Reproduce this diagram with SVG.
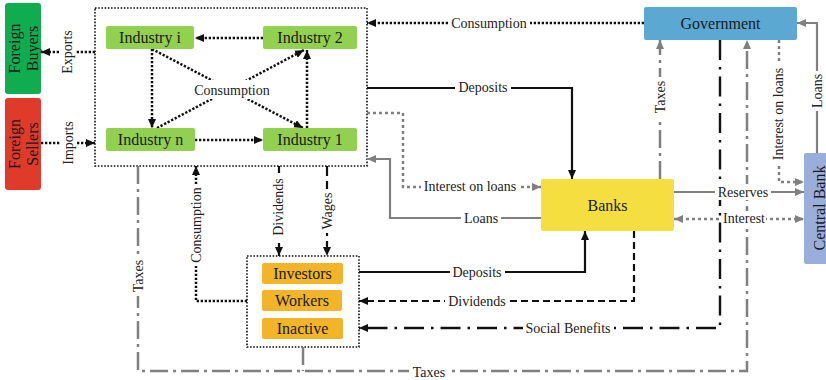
<svg xmlns="http://www.w3.org/2000/svg" width="826" height="380" viewBox="0 0 826 380" font-family="'Liberation Serif', 'Times New Roman', serif">
<defs>
<marker id="ab" markerUnits="userSpaceOnUse" markerWidth="9" markerHeight="8" refX="9" refY="4" orient="auto-start-reverse"><path d="M0,0 L9,4 L0,8 z" fill="#111"/></marker>
<marker id="ag" markerUnits="userSpaceOnUse" markerWidth="9" markerHeight="8" refX="9" refY="4" orient="auto-start-reverse"><path d="M0,0 L9,4 L0,8 z" fill="#808080"/></marker>
<style>
.lbl{font-family:'Liberation Serif',serif;font-size:14px;text-anchor:middle;fill:#222;}
.nt{font-family:'Liberation Serif',serif;font-size:16px;text-anchor:middle;fill:#1a1a1a;}
.bg{fill:#fff;}
.c{fill:none;}
.bdot{stroke:#111;stroke-width:2.5;stroke-dasharray:2.3 1.7;marker-end:url(#ab);}
.gdot{stroke:#808080;stroke-width:2.5;stroke-dasharray:3 3;marker-end:url(#ag);}
.bsol{stroke:#111;stroke-width:2.2;marker-end:url(#ab);}
.gsol{stroke:#808080;stroke-width:2.2;marker-end:url(#ag);}
.bdash{stroke:#111;stroke-width:2.2;stroke-dasharray:7 4;marker-end:url(#ab);}
.bdash2{stroke:#111;stroke-width:2.2;stroke-dasharray:10 5;marker-end:url(#ab);}
.bdd{stroke:#111;stroke-width:2.4;stroke-dasharray:20 7 2.5 7;marker-end:url(#ab);}
.gdd{stroke:#808080;stroke-width:2.5;stroke-dasharray:18 5 3 5;}
.box{fill:none;stroke:#111;stroke-width:1.6;stroke-dasharray:1.6 1.6;}
</style>
</defs>

<g id="industries">
<rect class="box" x="95" y="8" width="272" height="158"/>
</g>
<g id="households">
<rect class="box" x="247" y="256" width="112" height="91"/>
</g>

<g id="connectors">
<path class="c bdot" d="M263,38 H195"/>
<path class="c bdot" d="M195,140 H263"/>
<path class="c bdot" d="M152,49 V128"/>
<path class="c bdot" d="M307,128 V50"/>
<path class="c bdot" d="M152,49 L303,128"/>
<path class="c bdot" d="M157,128 L304,50"/>
<path class="c bdot" d="M95,52 H41"/>
<path class="c bdot" d="M41,143 H95"/>
<path class="c bdot" d="M644,23 H367"/>
<path class="c bsol" d="M367,88 H572 V179"/>
<path class="c gdot" d="M367,113 H403 V187 H541"/>
<path class="c gsol" d="M541,218 H390 V159 H367"/>
<path class="c gdd" d="M660,179 V40" marker-end="url(#ag)"/>
<path class="c gdd" d="M138,166 V371 H747 V40" marker-end="url(#ag)"/>
<path class="c gdd" d="M303,347 V371"/>
<path class="c bdd" d="M720,40 V328 H359"/>
<path class="c gdot" d="M779,40 V182 H804"/>
<path class="c gsol" d="M817,153 V23 H797"/>
<path class="c gsol" d="M674,192 H804"/>
<path class="c gdot" d="M674,219 H804" marker-start="url(#ag)"/>
<path class="c bdot" d="M247,301 H196 V166"/>
<path class="c bdash" d="M279,166 V256"/>
<path class="c bdash2" d="M327,166 V256"/>
<path class="c bsol" d="M359,272 H585 V231"/>
<path class="c bdash" d="M634,231 V301 H359"/>
</g>

<g id="labels">
<g><rect class="bg" x="192" y="80" width="80" height="19"/><text class="lbl" x="232" y="95">Consumption</text></g>
<g><rect class="bg" x="448" y="15" width="82" height="16"/><text class="lbl" x="489" y="28">Consumption</text></g>
<g><rect class="bg" x="455" y="79" width="56" height="16"/><text class="lbl" x="483" y="92">Deposits</text></g>
<g><rect class="bg" x="421" y="179" width="99" height="16"/><text class="lbl" x="470" y="191">Interest on loans</text></g>
<g><rect class="bg" x="461" y="210" width="40" height="16"/><text class="lbl" x="481" y="223">Loans</text></g>
<g><rect class="bg" x="715" y="184" width="56" height="16"/><text class="lbl" x="743" y="197">Reserves</text></g>
<g><rect class="bg" x="722" y="211" width="44" height="16"/><text class="lbl" x="744" y="223">Interest</text></g>
<g><rect class="bg" x="450" y="264" width="55" height="16"/><text class="lbl" x="477" y="277">Deposits</text></g>
<g><rect class="bg" x="445" y="293" width="64" height="16"/><text class="lbl" x="477" y="306">Dividends</text></g>
<g><rect class="bg" x="523" y="320" width="91" height="16"/><text class="lbl" x="568" y="333">Social Benefits</text></g>
<g><rect class="bg" x="409" y="363" width="40" height="16"/><text class="lbl" x="429" y="377">Taxes</text></g>
<g transform="translate(67,52) rotate(-90)"><rect class="bg" x="-25" y="-8" width="50" height="16"/><text class="lbl" x="0" y="5">Exports</text></g>
<g transform="translate(68,143) rotate(-90)"><rect class="bg" x="-25" y="-8" width="50" height="16"/><text class="lbl" x="0" y="5">Imports</text></g>
<g transform="translate(196,225) rotate(-90)"><rect class="bg" x="-41" y="-8" width="82" height="16"/><text class="lbl" x="0" y="5">Consumption</text></g>
<g transform="translate(278,207) rotate(-90)"><rect class="bg" x="-32" y="-8" width="64" height="16"/><text class="lbl" x="0" y="5">Dividends</text></g>
<g transform="translate(327,211) rotate(-90)"><rect class="bg" x="-22" y="-8" width="44" height="16"/><text class="lbl" x="0" y="5">Wages</text></g>
<g transform="translate(138,276) rotate(-90)"><rect class="bg" x="-20" y="-8" width="40" height="16"/><text class="lbl" x="0" y="5">Taxes</text></g>
<g transform="translate(660,97) rotate(-90)"><rect class="bg" x="-20" y="-8" width="40" height="16"/><text class="lbl" x="0" y="5">Taxes</text></g>
<g transform="translate(778,114) rotate(-90)"><rect class="bg" x="-50" y="-8" width="100" height="16"/><text class="lbl" x="0" y="5">Interest on loans</text></g>
<g transform="translate(817,91) rotate(-90)"><rect class="bg" x="-20" y="-8" width="40" height="16"/><text class="lbl" x="0" y="5">Loans</text></g>
</g>

<g id="foreign-buyers">
<rect x="5" y="3" width="36" height="91" rx="3" fill="#10ac50"/>
<g transform="translate(23,48.5) rotate(-90)"><text class="nt" x="0" y="-3.5">Foreign</text><text class="nt" x="0" y="14.5">Buyers</text></g>
</g>
<g id="foreign-sellers">
<rect x="5" y="98" width="36" height="92" rx="3" fill="#e03a2a"/>
<g transform="translate(23,144) rotate(-90)"><text class="nt" x="0" y="-3.5">Foreign</text><text class="nt" x="0" y="14.5">Sellers</text></g>
</g>
<g id="industry-i"><rect x="106" y="26" width="88" height="23" rx="2" fill="#92d050"/><text class="nt" x="150" y="43">Industry i</text></g>
<g id="industry-2"><rect x="263" y="26" width="94" height="23" rx="2" fill="#92d050"/><text class="nt" x="310" y="43">Industry 2</text></g>
<g id="industry-n"><rect x="106" y="128" width="89" height="23" rx="2" fill="#92d050"/><text class="nt" x="150.5" y="145">Industry n</text></g>
<g id="industry-1"><rect x="263" y="128" width="94" height="23" rx="2" fill="#92d050"/><text class="nt" x="310" y="145">Industry 1</text></g>
<g id="government"><rect x="644" y="7" width="153" height="33" rx="2" fill="#5ba9d3"/><text class="nt" x="720.5" y="29">Government</text></g>
<g id="banks"><rect x="541" y="179" width="133" height="52" rx="2" fill="#f5df40"/><text class="nt" x="607.5" y="211">Banks</text></g>
<g id="central-bank"><rect x="804" y="153" width="26" height="111" rx="2" fill="#9aaedb"/><g transform="translate(819,208) rotate(-90)"><text class="nt" x="0" y="5.5">Central Bank</text></g></g>
<g id="investors"><rect x="262" y="263" width="81" height="21" rx="2" fill="#f2b52a"/><text class="nt" x="302.5" y="279">Investors</text></g>
<g id="workers"><rect x="262" y="290" width="80" height="21" rx="2" fill="#f2b52a"/><text class="nt" x="302" y="306">Workers</text></g>
<g id="inactive"><rect x="262" y="318" width="81" height="21" rx="2" fill="#f2b52a"/><text class="nt" x="302.5" y="334">Inactive</text></g>
</svg>
